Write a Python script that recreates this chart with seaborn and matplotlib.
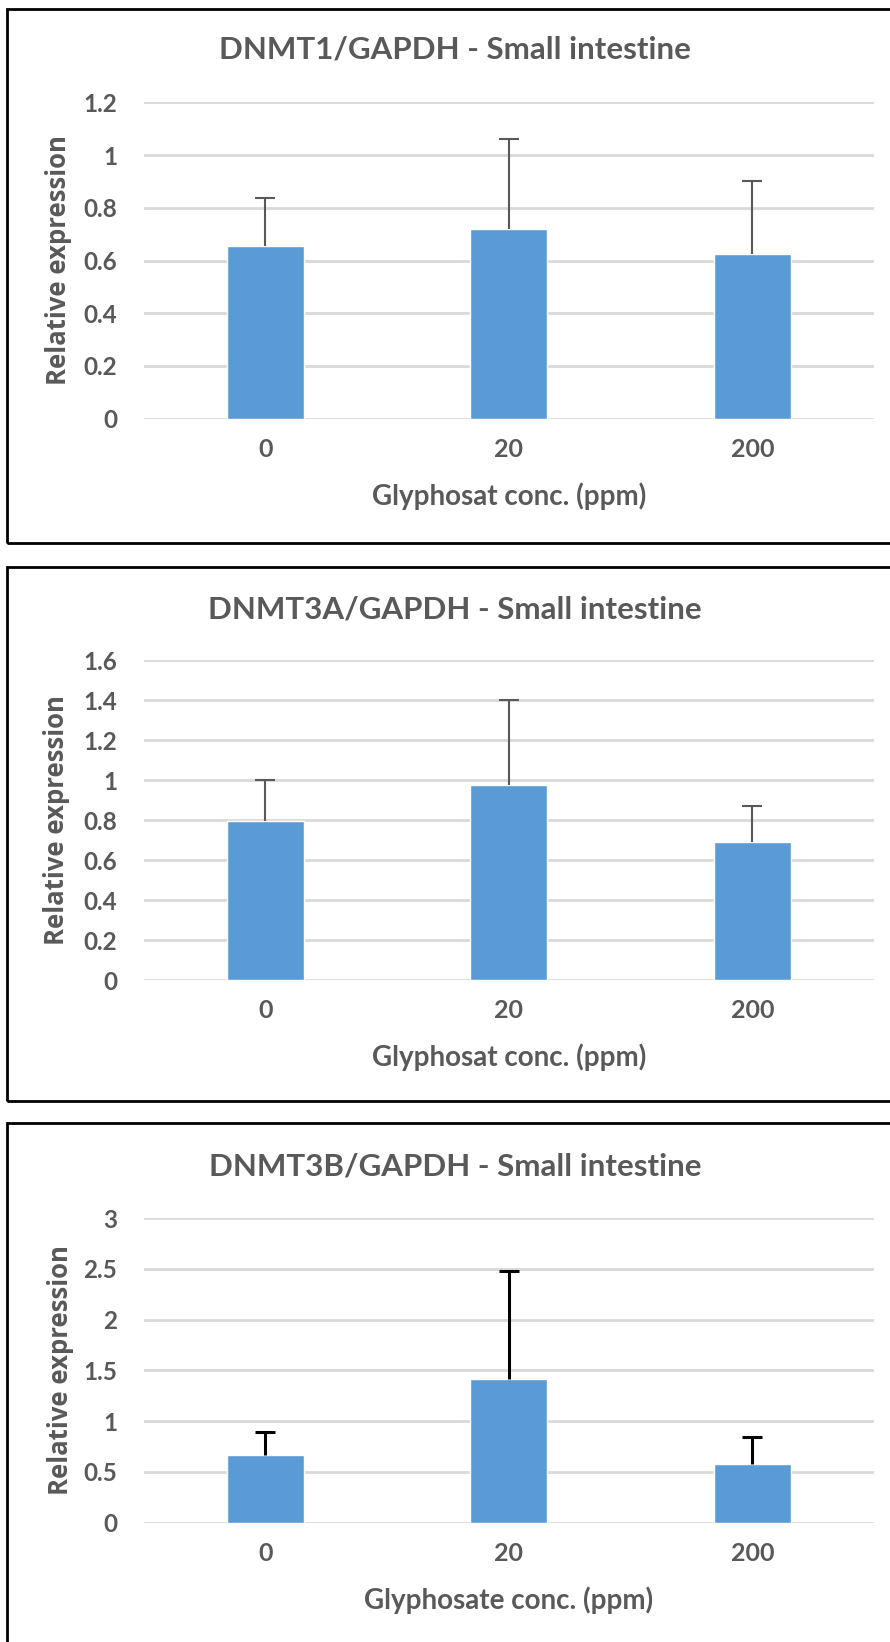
import matplotlib
matplotlib.use('Agg')
import matplotlib.pyplot as plt
from matplotlib.patches import Rectangle
import seaborn as sns

# Glyphosate concentrations (ppm)
concentrations = ['0', '20', '200']

# DNMT1/GAPDH - small intestine
dnmt1_mean = [0.654, 0.719, 0.624]
dnmt1_err = [0.185, 0.344, 0.278]

# DNMT3A/GAPDH - small intestine
dnmt3a_mean = [0.796, 0.974, 0.688]
dnmt3a_err = [0.202, 0.426, 0.183]

# DNMT3B/GAPDH - small intestine
dnmt3b_mean = [0.661, 1.416, 0.578]
dnmt3b_err = [0.234, 1.063, 0.261]

titles = ['DNMT1/GAPDH - Small intestine',
          'DNMT3A/GAPDH - Small intestine',
          'DNMT3B/GAPDH - Small intestine']
xlabels = ['Glyphosat conc. (ppm)', 'Glyphosat conc. (ppm)', 'Glyphosate conc. (ppm)']
yticks = [[0, 0.2, 0.4, 0.6, 0.8, 1, 1.2],
          [0, 0.2, 0.4, 0.6, 0.8, 1, 1.2, 1.4, 1.6],
          [0, 0.5, 1, 1.5, 2, 2.5, 3]]

BAR = '#5B9BD5'
GRID = '#D9D9D9'
TXT = '#595959'

sns.set_theme(style='white')
plt.rcParams['font.family'] = ['Lato', 'DejaVu Sans']

W, H = 890, 1642
fig = plt.figure(figsize=(W / 100, H / 100), dpi=100)

# axes boxes in pixels: left, right, top (max tick), bottom (zero)
boxes = [(143.6, 874, 102.5, 418.6),
         (143.6, 874, 660, 980),
         (143.6, 874, 1218, 1522.6)]
# chart-area frames in pixels: top, bottom
frames = [(9, 543), (567, 1101), (1123, 1700)]
title_y = [50, 609, 1166]
xlab_y = [496, 1057, 1600]
ylab_x = [58, 57, 60]

panels = [(dnmt1_mean, dnmt1_err, '#595959', 1.5),
          (dnmt3a_mean, dnmt3a_err, '#595959', 1.5),
          (dnmt3b_mean, dnmt3b_err, 'black', 2.2)]

for i, (means, errs, ecol, elw) in enumerate(panels):
    l, r, t, b = boxes[i]
    ax = fig.add_axes([l / W, 1 - b / H, (r - l) / W, (b - t) / H])
    sns.barplot(x=concentrations, y=means, color=BAR, width=0.315,
                saturation=1, ax=ax, zorder=2)
    eb = ax.errorbar(range(len(concentrations)), means,
                     yerr=[[0] * len(errs), errs], fmt='none',
                     ecolor=ecol, elinewidth=elw, capsize=7, capthick=elw, zorder=3)
    # only the upper error is shown, hide the cap sitting on the bar
    eb[1][0].set_visible(False)

    ax.set_ylim(0, yticks[i][-1])
    ax.set_xlim(-0.5, 2.5)
    ax.set_yticks(yticks[i])
    ax.set_yticklabels([f'{v:g}' for v in yticks[i]])
    ax.yaxis.grid(True, color=GRID, linewidth=2, zorder=0)
    ax.set_axisbelow(True)
    sns.despine(ax=ax, left=True, bottom=True)
    ax.tick_params(axis='y', length=0, pad=19, labelsize=17.5, labelcolor=TXT)
    ax.tick_params(axis='x', length=0, pad=14, labelsize=18, labelcolor=TXT)
    for lab in ax.get_xticklabels() + ax.get_yticklabels():
        lab.set_fontweight('bold')

    ax.set_xlabel(xlabels[i], fontsize=20, fontweight='bold', color=TXT, va='center')
    ax.xaxis.set_label_coords(0.5, -(xlab_y[i] - b) / (b - t))
    ax.set_ylabel('Relative expression', fontsize=18.5, fontweight='bold',
                  color=TXT, va='center', family=['Open Sans', 'DejaVu Sans'])
    ax.yaxis.set_label_coords((ylab_x[i] - l) / (r - l), 0.5)

    fig.text(455 / W, 1 - title_y[i] / H, titles[i], ha='center', va='center',
             fontsize=22.5, fontweight='bold', color=TXT)

    ft, fb = frames[i]
    fig.add_artist(Rectangle((7 / W, 1 - fb / H), 1.0, (fb - ft) / H,
                             transform=fig.transFigure, fill=False,
                             edgecolor='black', linewidth=2))

fig.savefig('out.png', dpi=100)
